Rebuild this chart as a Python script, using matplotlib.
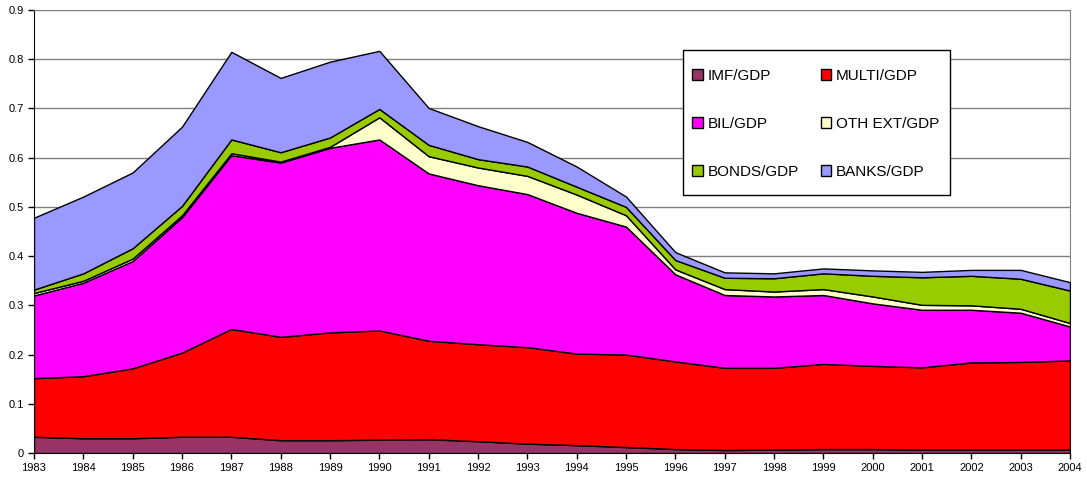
import matplotlib
matplotlib.use("Agg")
import matplotlib.pyplot as plt
from matplotlib.patches import Patch, Rectangle

years = list(range(1983, 2005))
imf = [0.033, 0.030, 0.030, 0.033, 0.033, 0.026, 0.026, 0.027, 0.028, 0.024, 0.019,
       0.016, 0.012, 0.008, 0.006, 0.007, 0.008, 0.008, 0.007, 0.007, 0.007, 0.007]
multi = [0.119, 0.126, 0.142, 0.171, 0.219, 0.210, 0.219, 0.222, 0.200, 0.197, 0.196,
         0.186, 0.188, 0.178, 0.167, 0.166, 0.173, 0.169, 0.167, 0.177, 0.178, 0.181]
bil = [0.168, 0.190, 0.218, 0.275, 0.353, 0.354, 0.375, 0.388, 0.340, 0.323, 0.311,
       0.286, 0.260, 0.177, 0.148, 0.145, 0.140, 0.127, 0.117, 0.107, 0.100, 0.069]
oth_ext = [0.005, 0.004, 0.005, 0.004, 0.004, 0.002, 0.002, 0.045, 0.035, 0.036, 0.037,
           0.037, 0.023, 0.010, 0.012, 0.010, 0.012, 0.014, 0.010, 0.009, 0.008, 0.007]
bonds = [0.007, 0.015, 0.021, 0.019, 0.028, 0.019, 0.019, 0.017, 0.023, 0.017, 0.019,
         0.016, 0.017, 0.019, 0.023, 0.027, 0.032, 0.042, 0.056, 0.060, 0.061, 0.066]
banks = [0.146, 0.156, 0.154, 0.161, 0.178, 0.151, 0.154, 0.118, 0.075, 0.067, 0.050,
         0.041, 0.021, 0.016, 0.011, 0.010, 0.010, 0.011, 0.011, 0.012, 0.018, 0.017]

labels = ["IMF/GDP", "MULTI/GDP", "BIL/GDP", "OTH EXT/GDP", "BONDS/GDP", "BANKS/GDP"]
colors = ["#993366", "#FF0000", "#FF00FF", "#FFFFCC", "#99CC00", "#9999FF"]

plt.rcParams['font.family'] = ['Liberation Sans', 'DejaVu Sans']

W, H = 1087, 483
fig = plt.figure(figsize=(W / 100, H / 100), dpi=100)
ax = fig.add_axes([34/W, 30/H, (1070-34)/W, (453-10)/H])

ax.stackplot(years, imf, multi, bil, oth_ext, bonds, banks,
             colors=colors, edgecolor="black", linewidth=1.0, zorder=3)

ax.set_xlim(1983, 2004)
ax.set_ylim(0, 0.9)
ax.set_xticks(years)
ax.set_xticklabels([str(y) for y in years])
ax.set_yticks([i / 10 for i in range(10)])
ax.set_yticklabels(["0"] + [f"{i/10:.1f}" for i in range(1, 10)])
ax.tick_params(axis="both", labelsize=8, direction="out", length=4, width=1, color="black")
ax.yaxis.grid(True, color="#808080", linewidth=1, zorder=0)
ax.set_axisbelow(True)
for s in ["top", "right"]:
    ax.spines[s].set_color("#808080")
for s in ["left", "bottom"]:
    ax.spines[s].set_color("black")

# legend frame
frame = Rectangle((683/W, 1 - 195/H), (950-683)/W, (195-50)/H,
                  transform=fig.transFigure, facecolor="white", edgecolor="black",
                  linewidth=1, zorder=5)
fig.patches.append(frame)

handles = [Patch(facecolor=c, edgecolor="black", linewidth=1) for c in colors]
order = [0, 2, 4, 1, 3, 5]
leg = fig.legend([handles[i] for i in order], [labels[i] for i in order],
                 ncol=2, loc="upper left", bbox_to_anchor=(692/W, 1 - 69/H),
                 fontsize=11, frameon=False, handlelength=0.7, handleheight=0.7,
                 handletextpad=0.3, labelspacing=2.23, columnspacing=1.45,
                 borderpad=0, borderaxespad=0)
leg.set_zorder(6)

fig.savefig("out.png", dpi=100)
